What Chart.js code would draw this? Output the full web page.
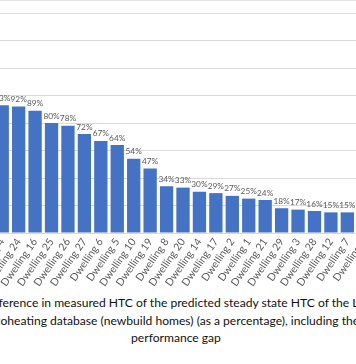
<!DOCTYPE html>
<html>
<head>
<meta charset="utf-8">
<script src="https://cdn.jsdelivr.net/npm/chart.js@4"></script>
<style>
  html, body { margin: 0; padding: 0; background: #fff; }
  #wrap { position: relative; width: 356px; height: 364px; overflow: hidden; background: #fff; }
  #topline { position: absolute; left: 0; top: 0; width: 356px; height: 1px; background: #e3e3e3; }
  #c { position: absolute; left: -6px; top: 0; }
  .tl { position: absolute; width: 472px; text-align: center; white-space: nowrap;
        font-family: Lato, "Liberation Sans", sans-serif; font-size: 12.1px; color: #111; line-height: 17.5px; }
</style>
</head>
<body>
<div id="wrap">
  <div id="topline"></div>
  <canvas id="c" width="378" height="290"></canvas>
  <div class="tl" style="top:294px; left:-57px">Difference in measured HTC of the predicted steady state HTC of the LBU</div>
  <div class="tl" style="top:311.5px; left:-59px">coheating database (newbuild homes) (as a percentage), including the</div>
  <div class="tl" style="top:329px; left:-60px">performance gap</div>
</div>
<script>
const categories = ["Dwelling 4","Dwelling 24","Dwelling 16","Dwelling 25","Dwelling 26","Dwelling 27","Dwelling 6","Dwelling 5","Dwelling 10","Dwelling 19","Dwelling 8","Dwelling 20","Dwelling 14","Dwelling 17","Dwelling 2","Dwelling 1","Dwelling 21","Dwelling 29","Dwelling 3","Dwelling 28","Dwelling 12","Dwelling 7","Dwelling 9"];
const percentDifference = [93,92,89,80,78,72,67,64,54,47,34,33,30,29,27,25,24,18,17,16,15,15,14];
const yTicks = [0,20,40,60,80,100,120,140,160];

const valueLabels = {
  id: 'valueLabels',
  afterDatasetsDraw(chart) {
    const ctx = chart.ctx;
    const meta = chart.getDatasetMeta(0);
    ctx.save();
    ctx.font = '8.3px Lato, "Liberation Sans", sans-serif';
    ctx.fillStyle = '#595959';
    ctx.textAlign = 'center';
    ctx.textBaseline = 'bottom';
    meta.data.forEach((bar, i) => {
      ctx.fillText(chart.data.datasets[0].data[i] + '%', bar.x, bar.y - 3);
    });
    ctx.restore();
  }
};

new Chart(document.getElementById('c'), {
  type: 'bar',
  data: {
    labels: categories,
    datasets: [{
      data: percentDifference,
      backgroundColor: '#4472C4',
      borderWidth: 0,
      barPercentage: 0.81,
      categoryPercentage: 1.0
    }]
  },
  options: {
    responsive: false,
    animation: false,
    devicePixelRatio: 1,
    layout: { padding: { top: 13, left: 0, right: 0, bottom: 0 } },
    plugins: { legend: { display: false }, tooltip: { enabled: false }, title: { display: false } },
    scales: {
      y: {
        min: yTicks[0],
        max: yTicks[yTicks.length - 1],
        afterBuildTicks(s) { s.ticks = yTicks.map(v => ({ value: v })); },
        ticks: { display: false },
        border: { display: false },
        grid: { color: '#d9d9d9', drawTicks: false, lineWidth: 1 },
        afterFit(s) { s.width = 0; s.paddingTop = 0; s.paddingBottom = 0; }
      },
      x: {
        offset: true,
        grid: { display: false, drawTicks: false },
        border: { display: true, color: '#d9d9d9' },
        ticks: {
          autoSkip: false,
          minRotation: 55,
          maxRotation: 55,
          padding: 3,
          color: '#595959',
          font: { family: 'Lato, "Liberation Sans", sans-serif', size: 10.5 }
        },
        afterFit(s) { s.paddingLeft = 0; s.paddingRight = 0; s.height = 57; }
      }
    }
  },
  plugins: [valueLabels]
});
</script>
</body>
</html>
